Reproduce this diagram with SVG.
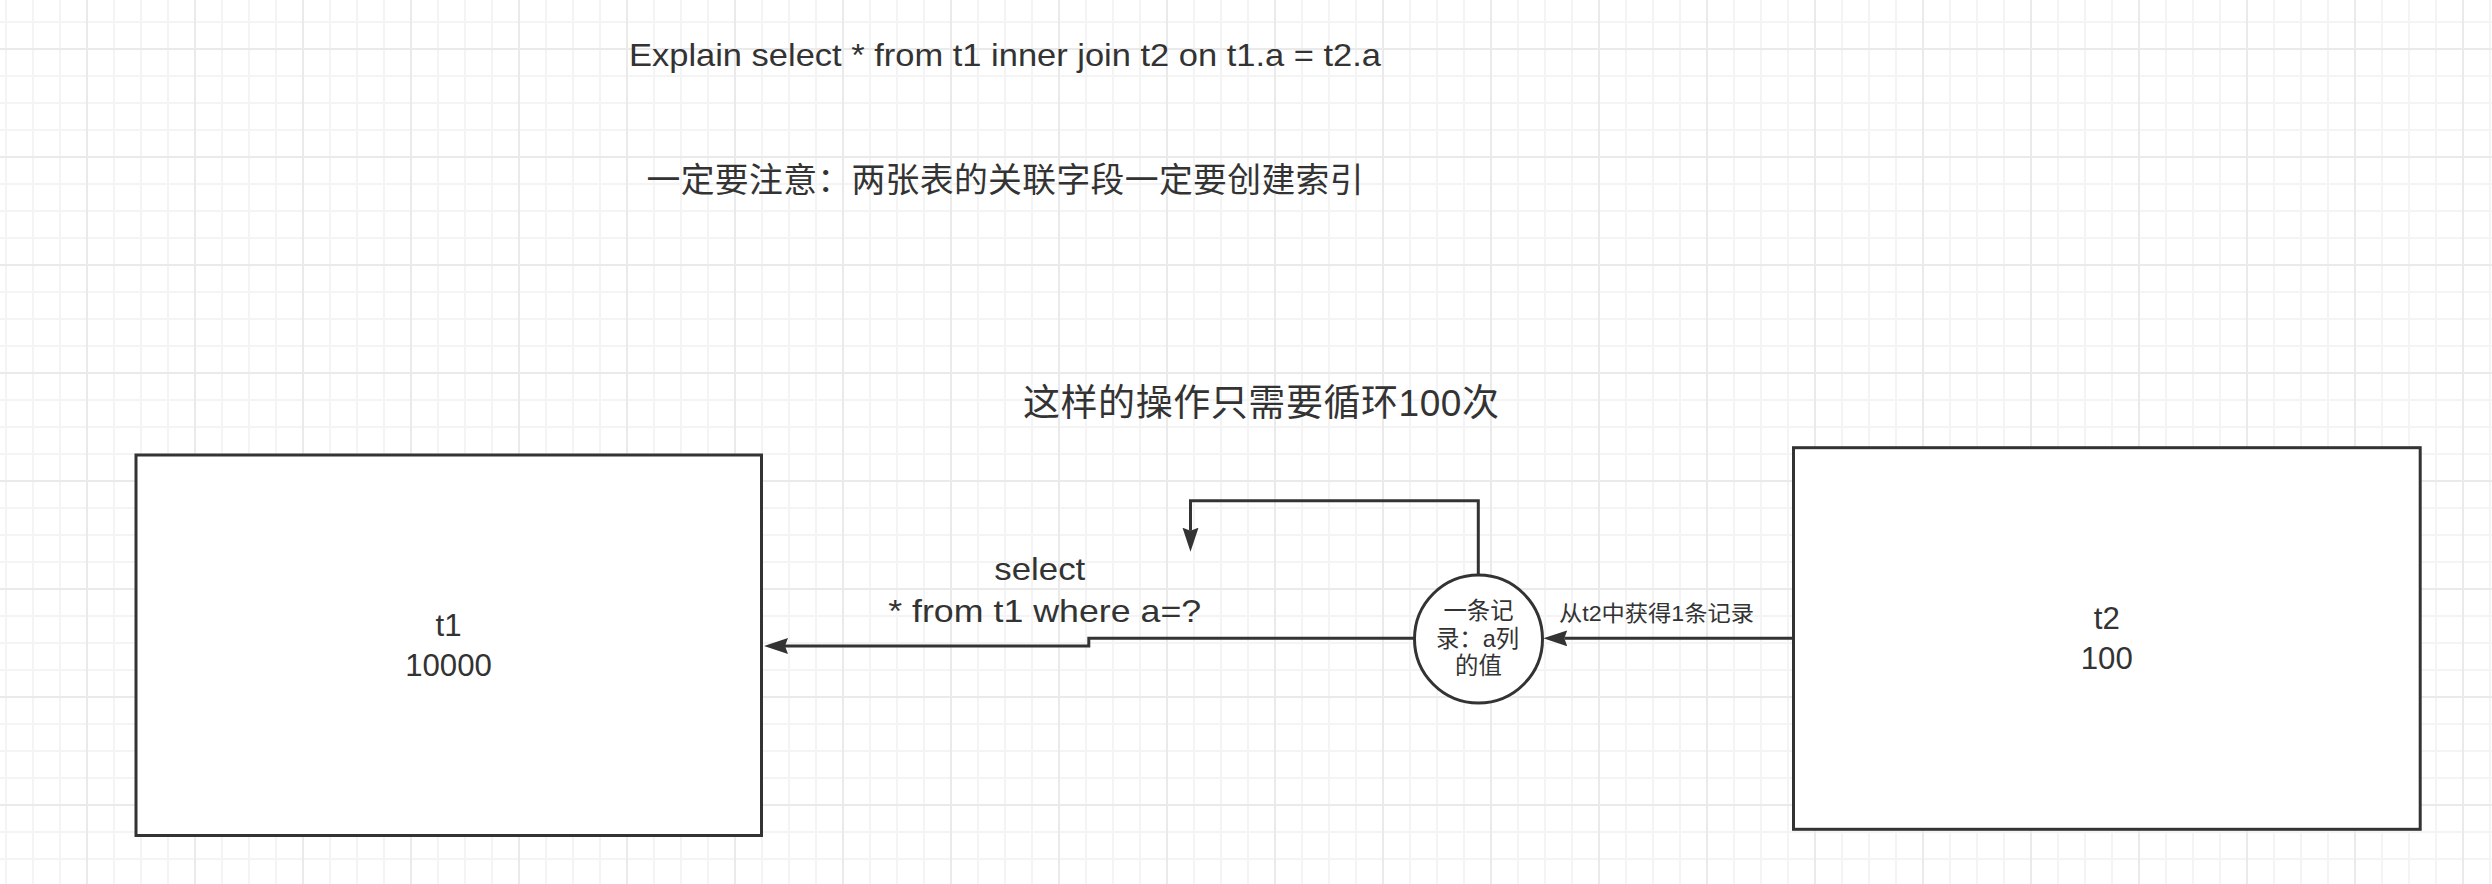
<svg xmlns="http://www.w3.org/2000/svg" width="2492" height="884" viewBox="0 0 2492 884">
<style>
text{font-family:"Liberation Sans","Noto Sans CJK SC",sans-serif;fill:#333333}
.cjk{font-family:"Noto Sans CJK SC","Liberation Sans",sans-serif}
.m{font-size:31.2px}
.box{fill:#ffffff;stroke:#333333;stroke-width:3}
.edge{fill:none;stroke:#333333;stroke-width:3}
</style>
<defs>
<pattern id="grid" patternUnits="userSpaceOnUse" x="86" y="48" width="108" height="108">
<rect x="0" y="0" width="108" height="108" fill="#ffffff"/>
<rect x="27" y="0" width="2" height="108" fill="#f4f4f4"/>
<rect x="54" y="0" width="2" height="108" fill="#f4f4f4"/>
<rect x="81" y="0" width="2" height="108" fill="#f4f4f4"/>
<rect x="0" y="27" width="108" height="2" fill="#f4f4f4"/>
<rect x="0" y="54" width="108" height="2" fill="#f4f4f4"/>
<rect x="0" y="81" width="108" height="2" fill="#f4f4f4"/>
<rect x="0" y="0" width="2" height="108" fill="#eaeaea"/>
<rect x="0" y="0" width="108" height="2" fill="#eaeaea"/>
</pattern>
<marker id="arrow" markerUnits="userSpaceOnUse" markerWidth="26" markerHeight="18" refX="3" refY="8" orient="auto">
<path d="M0,0 L24,8 L0,16 L3,8 Z" fill="#333333"/>
</marker>
</defs>
<rect x="0" y="0" width="2492" height="884" fill="url(#grid)"/>

<g id="title">
<text class="m" x="629" y="65.7" textLength="752" lengthAdjust="spacingAndGlyphs">Explain select * from t1 inner join t2 on t1.a = t2.a</text>
</g>
<g id="note">
<text class="cjk" x="646.5" y="192" font-size="33.8" textLength="717" lengthAdjust="spacing">一定要注意：两张表的关联字段一定要创建索引</text>
</g>
<g id="loop-note">
<text x="1023" y="416" font-size="37" textLength="476" lengthAdjust="spacing">这样的操作只需要循环100次</text>
</g>

<g id="t1">
<rect class="box" x="136" y="455" width="625.5" height="380.5"/>
<text class="m" x="448.5" y="636" text-anchor="middle">t1</text>
<text class="m" x="448.5" y="676" text-anchor="middle">10000</text>
</g>

<g id="t2">
<rect class="box" x="1793.5" y="447.7" width="626.7" height="381.6"/>
<text class="m" x="2106.8" y="629.3" text-anchor="middle">t2</text>
<text class="m" x="2106.8" y="669.3" text-anchor="middle">100</text>
</g>

<g id="record">
<circle class="box" cx="1478.5" cy="639" r="64"/>
<text x="1478.5" y="619" font-size="23.4" text-anchor="middle">一条记</text>
<text x="1477.5" y="647" font-size="23.4" text-anchor="middle">录：a列</text>
<text x="1478.5" y="674" font-size="23.4" text-anchor="middle">的值</text>
</g>

<g id="connectors">
<path class="edge" d="M1793.5,638.3 H1564.3" marker-end="url(#arrow)"/>
<path class="edge" d="M1414.5,638.3 H1088.8 V646 H785" marker-end="url(#arrow)"/>
<path class="edge" d="M1478.3,575 V500.7 H1190.5 V530.7" marker-end="url(#arrow)"/>
<g id="label-fetch">
<text x="1656.5" y="620.5" font-size="22" text-anchor="middle" textLength="195" lengthAdjust="spacingAndGlyphs">从t2中获得1条记录</text>
</g>
<g id="label-select">
<text class="m" x="1039.8" y="580" text-anchor="middle" textLength="91" lengthAdjust="spacingAndGlyphs">select</text>
<text class="m" x="1044.7" y="621.7" text-anchor="middle" textLength="313" lengthAdjust="spacingAndGlyphs">* from t1 where a=?</text>
</g>
</g>
</svg>
